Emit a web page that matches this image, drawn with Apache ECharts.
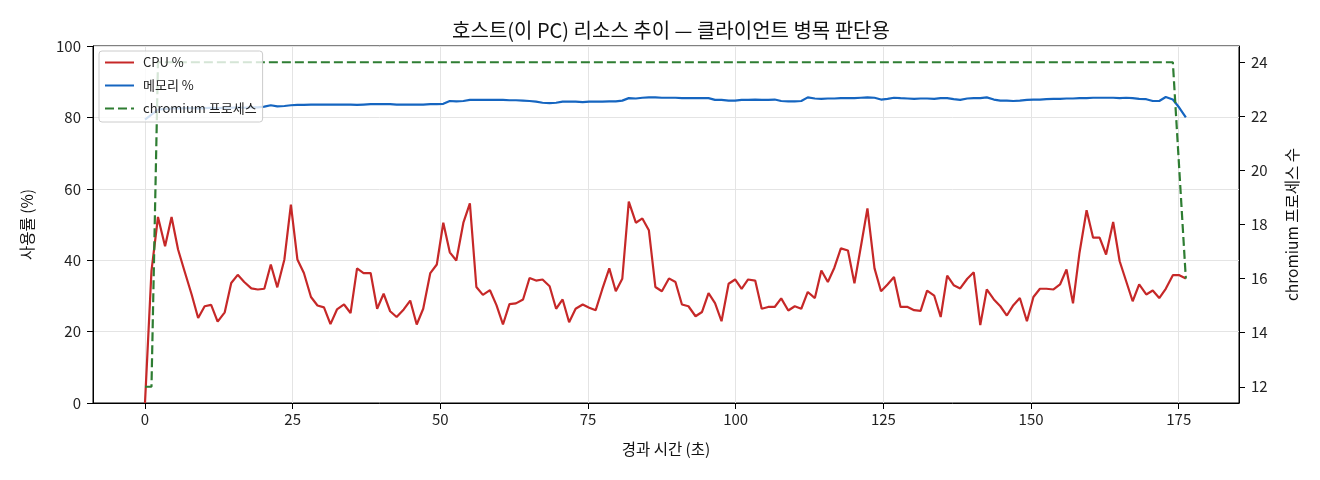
<!DOCTYPE html>
<html>
<head>
<meta charset="utf-8">
<script src="https://cdn.jsdelivr.net/npm/echarts@6/dist/echarts.min.js"></script>
<style>
  html, body { margin: 0; padding: 0; background: #fff; }
  #chart { width: 1320px; height: 480px; }
</style>
</head>
<body>
<div id="chart"></div>
<script>
// elapsed time (s), one sample roughly every 1.12 s
var time = [
    0, 1.1, 2.2, 3.4, 4.5, 5.6, 6.7, 7.9, 9.0, 10.1, 11.2, 12.3, 13.5, 14.6, 15.7, 16.8, 18.0, 19.1, 20.2, 21.3,
    22.4, 23.6, 24.7, 25.8, 26.9, 28.1, 29.2, 30.3, 31.4, 32.5, 33.7, 34.8, 35.9, 37.0, 38.2, 39.3, 40.4, 41.5, 42.6, 43.8,
    44.9, 46.0, 47.1, 48.3, 49.4, 50.5, 51.6, 52.7, 53.9, 55.0, 56.1, 57.2, 58.4, 59.5, 60.6, 61.7, 62.8, 64.0, 65.1, 66.2,
    67.3, 68.5, 69.6, 70.7, 71.8, 72.9, 74.1, 75.2, 76.3, 77.4, 78.6, 79.7, 80.8, 81.9, 83.1, 84.2, 85.3, 86.4, 87.5, 88.7,
    89.8, 90.9, 92.0, 93.2, 94.3, 95.4, 96.5, 97.6, 98.8, 99.9, 101.0, 102.1, 103.3, 104.4, 105.5, 106.6, 107.7, 108.9, 110.0, 111.1,
    112.2, 113.4, 114.5, 115.6, 116.7, 117.8, 119.0, 120.1, 121.2, 122.3, 123.5, 124.6, 125.7, 126.8, 127.9, 129.1, 130.2, 131.3, 132.4, 133.6,
    134.7, 135.8, 136.9, 138.0, 139.2, 140.3, 141.4, 142.5, 143.7, 144.8, 145.9, 147.0, 148.1, 149.3, 150.4, 151.5, 152.6, 153.8, 154.9, 156.0,
    157.1, 158.2, 159.4, 160.5, 161.6, 162.7, 163.9, 165.0, 166.1, 167.2, 168.3, 169.5, 170.6, 171.7, 172.8, 174.0, 175.1, 176.2
];

var cpu = [
    0, 37, 52.1, 43.9, 52.1, 43.0, 36.9, 30.4, 23.8, 27.1, 27.5, 22.8, 25.4, 33.6, 35.9, 33.9, 32.1, 31.8, 32.0, 38.8,
    32.4, 40.2, 55.6, 40.2, 36.4, 29.7, 27.3, 26.8, 22.1, 26.2, 27.6, 25.2, 37.7, 36.4, 36.4, 26.4, 30.6, 25.7, 24.1, 26.2,
    28.7, 22.0, 26.4, 36.4, 38.8, 50.5, 42.2, 39.9, 50.5, 55.9, 32.5, 30.3, 31.6, 27.4, 22.0, 27.7, 27.9, 29.0, 35.0, 34.3,
    34.6, 32.7, 26.4, 29.0, 22.6, 26.4, 27.6, 26.7, 26.0, 31.8, 37.7, 31.3, 34.8, 56.4, 50.5, 51.7, 48.4, 32.5, 31.3, 34.9,
    33.9, 27.6, 27.1, 24.3, 25.5, 30.8, 28.0, 22.9, 33.4, 34.6, 32.0, 34.6, 34.3, 26.4, 26.9, 26.9, 29.3, 25.9, 27.1, 26.4,
    31.1, 29.4, 37.1, 33.9, 37.9, 43.3, 42.7, 33.5, 43.9, 54.5, 37.7, 31.3, 33.2, 35.3, 26.9, 26.9, 26.0, 25.8, 31.5, 30.1,
    24.1, 35.7, 33.0, 32.1, 34.8, 36.6, 21.8, 31.8, 29.0, 27.1, 24.5, 27.4, 29.4, 22.9, 29.7, 32.0, 32.0, 31.8, 33.2, 37.4,
    27.9, 42.1, 54.0, 46.3, 46.3, 41.6, 50.7, 39.7, 34.1, 28.5, 33.2, 30.4, 31.5, 29.4, 32.0, 35.8, 35.8, 34.9
];

var mem = [
    79.4, 80.8, 82.2, 82.4, 82.5, 82.5, 82.6, 82.6, 82.5, 82.6, 82.7, 82.6, 82.7, 82.7, 82.8, 82.7, 82.8, 82.8, 83.0, 83.4,
    83.1, 83.2, 83.4, 83.5, 83.5, 83.6, 83.6, 83.6, 83.6, 83.6, 83.6, 83.6, 83.5, 83.6, 83.7, 83.7, 83.7, 83.7, 83.6, 83.6,
    83.6, 83.6, 83.6, 83.7, 83.7, 83.8, 84.6, 84.5, 84.6, 84.9, 84.9, 84.9, 84.9, 84.9, 84.9, 84.8, 84.8, 84.7, 84.6, 84.4,
    84.1, 84.0, 84.1, 84.4, 84.4, 84.4, 84.3, 84.4, 84.4, 84.4, 84.5, 84.5, 84.7, 85.4, 85.3, 85.5, 85.6, 85.6, 85.5, 85.5,
    85.5, 85.4, 85.4, 85.4, 85.4, 85.4, 84.9, 84.9, 84.7, 84.7, 84.9, 84.9, 85.0, 84.9, 84.9, 85.0, 84.6, 84.5, 84.5, 84.6,
    85.6, 85.3, 85.2, 85.3, 85.3, 85.4, 85.4, 85.4, 85.5, 85.6, 85.5, 85.0, 85.2, 85.5, 85.4, 85.3, 85.2, 85.3, 85.3, 85.2,
    85.4, 85.4, 85.1, 84.9, 85.3, 85.4, 85.4, 85.6, 85.0, 84.7, 84.7, 84.6, 84.7, 84.9, 85.0, 85.0, 85.1, 85.2, 85.2, 85.3,
    85.3, 85.4, 85.4, 85.5, 85.5, 85.5, 85.5, 85.4, 85.5, 85.4, 85.2, 85.1, 84.6, 84.6, 85.7, 85.0, 82.7, 80.0
];

var procs = [
    12, 12, 24, 24, 24, 24, 24, 24, 24, 24, 24, 24, 24, 24, 24, 24, 24, 24, 24, 24,
    24, 24, 24, 24, 24, 24, 24, 24, 24, 24, 24, 24, 24, 24, 24, 24, 24, 24, 24, 24,
    24, 24, 24, 24, 24, 24, 24, 24, 24, 24, 24, 24, 24, 24, 24, 24, 24, 24, 24, 24,
    24, 24, 24, 24, 24, 24, 24, 24, 24, 24, 24, 24, 24, 24, 24, 24, 24, 24, 24, 24,
    24, 24, 24, 24, 24, 24, 24, 24, 24, 24, 24, 24, 24, 24, 24, 24, 24, 24, 24, 24,
    24, 24, 24, 24, 24, 24, 24, 24, 24, 24, 24, 24, 24, 24, 24, 24, 24, 24, 24, 24,
    24, 24, 24, 24, 24, 24, 24, 24, 24, 24, 24, 24, 24, 24, 24, 24, 24, 24, 24, 24,
    24, 24, 24, 24, 24, 24, 24, 24, 24, 24, 24, 24, 24, 24, 24, 24, 20, 16
];

var xTicks = [0, 25, 50, 75, 100, 125, 150, 175];
var procTicks = [12, 14, 16, 18, 20, 22, 24];

function pairs(ys) {
    return time.map(function (t, i) { return [t, ys[i]]; });
}

var FONT = '"Noto Sans CJK KR", "Noto Sans", sans-serif';

var chart = echarts.init(document.getElementById('chart'), null, { renderer: 'canvas' });

var option = {
    animation: false,
    backgroundColor: '#fff',
    textStyle: { fontFamily: FONT },
    title: {
        text: '호스트(이 PC) 리소스 추이 — 클라이언트 병목 판단용',
        left: 666,
        textAlign: 'center',
        top: 15,
        textStyle: { fontSize: 20, fontWeight: 'normal', color: '#111', fontFamily: FONT }
    },
    grid: {
        left: 93, right: 81, top: 46, bottom: 77,
        show: true, borderColor: '#000', borderWidth: 1
    },
    legend: {
        orient: 'vertical',
        left: 99, top: 51,
        padding: [5, 6, 7, 5],
        itemWidth: 29, itemHeight: 14, itemGap: 10,
        backgroundColor: 'rgba(255,255,255,0.8)',
        borderColor: '#cccccc', borderWidth: 1, borderRadius: 3,
        itemStyle: { opacity: 0 },
        textStyle: { fontSize: 13, color: '#222', fontFamily: FONT, padding: [0, 0, 0, 4] },
        data: ['CPU %', '메모리 %', 'chromium 프로세스']
    },
    xAxis: {
        type: 'value',
        min: -8.8, max: 185.2,
        name: '경과 시간 (초)',
        nameLocation: 'middle',
        nameGap: 38,
        nameTextStyle: { fontSize: 15.5, color: '#111' },
        axisLine: { show: true, onZero: false, lineStyle: { color: '#000', width: 1 } },
        axisTick: { show: true, length: 6, customValues: xTicks, lineStyle: { color: '#000' } },
        axisLabel: { customValues: xTicks, fontSize: 15, color: '#222', margin: 9 },
        splitLine: { show: true, lineStyle: { color: '#e4e4e4', width: 1 } }
    },
    yAxis: [
        {
            type: 'value',
            min: 0, max: 100, interval: 20,
            name: '사용률 (%)',
            nameLocation: 'middle',
            nameGap: 58,
            nameRotate: 90,
            nameTextStyle: { fontSize: 15.5, color: '#111' },
            axisLine: { show: true, onZero: false, lineStyle: { color: '#000', width: 1 } },
            axisTick: { show: true, length: 6, lineStyle: { color: '#000' } },
            axisLabel: { fontSize: 15, color: '#222', margin: 12 },
            splitLine: { show: true, lineStyle: { color: '#e4e4e4', width: 1 } }
        },
        {
            type: 'value',
            position: 'right',
            min: 11.4, max: 24.6,
            name: 'chromium 프로세스 수',
            nameLocation: 'middle',
            nameGap: 45,
            nameRotate: 90,
            nameTextStyle: { fontSize: 15.5, color: '#111' },
            axisLine: { show: true, onZero: false, lineStyle: { color: '#000', width: 1 } },
            axisTick: { show: true, length: 6, customValues: procTicks, lineStyle: { color: '#000' } },
            axisLabel: { customValues: procTicks, fontSize: 15, color: '#222', margin: 12 },
            splitLine: { show: false }
        }
    ],
    series: [
        {
            name: 'CPU %',
            type: 'line',
            yAxisIndex: 0,
            data: pairs(cpu),
            symbol: 'none',
            lineStyle: { color: '#c62828', width: 2.2 },
            itemStyle: { color: '#c62828' },
            z: 3
        },
        {
            name: '메모리 %',
            type: 'line',
            yAxisIndex: 0,
            data: pairs(mem),
            symbol: 'none',
            lineStyle: { color: '#1565c0', width: 2.2 },
            itemStyle: { color: '#1565c0' },
            z: 3
        },
        {
            name: 'chromium 프로세스',
            type: 'line',
            yAxisIndex: 1,
            data: pairs(procs),
            symbol: 'none',
            lineStyle: { color: '#2e7d32', width: 2.2, type: [9, 4] },
            itemStyle: { color: '#2e7d32' },
            z: 3
        }
    ]
};

chart.setOption(option);
window.addEventListener('resize', function () {
    chart.resize();
});
</script>
</body>
</html>
